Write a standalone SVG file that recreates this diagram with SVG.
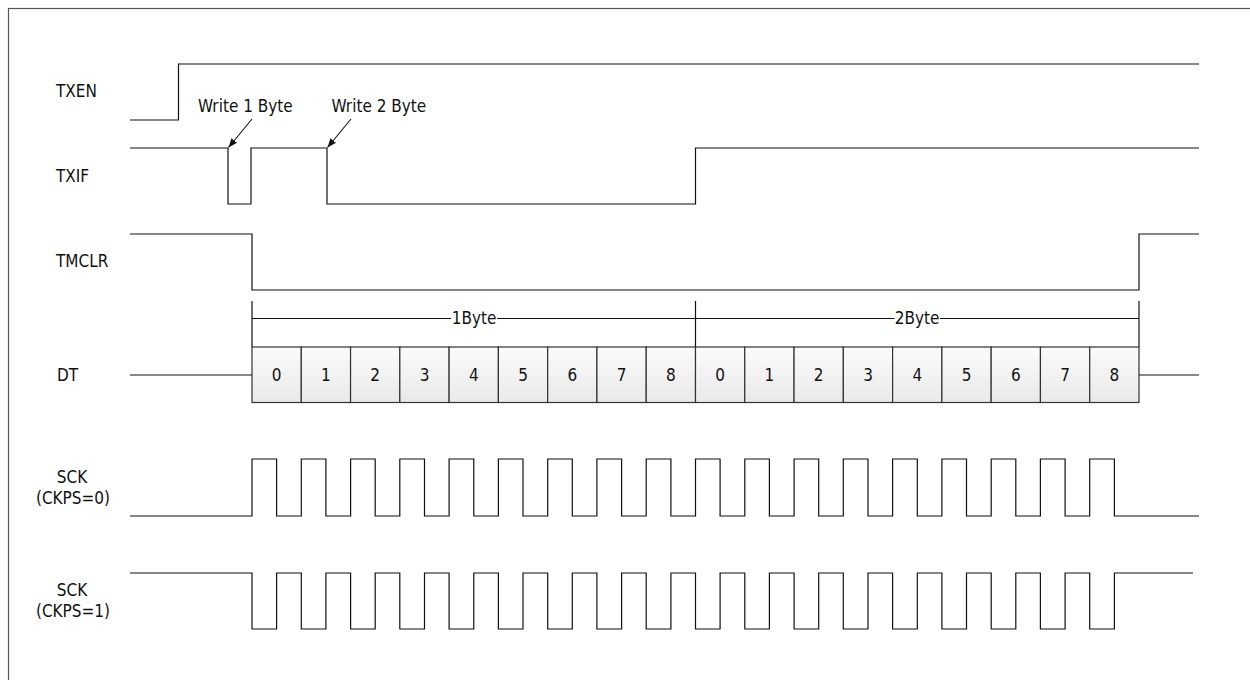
<svg xmlns="http://www.w3.org/2000/svg" width="1250" height="680" viewBox="0 0 1250 680">
<style>
  text { font-family: "DejaVu Sans Condensed", "DejaVu Sans", sans-serif; font-stretch: condensed; font-size: 17px; fill: #111; }
  .wave { fill: none; stroke: #111; stroke-width: 1.2; }
  .cell { fill: url(#cellGrad); stroke: #333; stroke-width: 1.2; }
  .num { text-anchor: middle; }
  .mid { text-anchor: middle; }
  .arrow { stroke: #111; stroke-width: 1.1; fill: none; marker-end: url(#ah); }
</style>
<defs>
  <linearGradient id="cellGrad" x1="0" y1="0" x2="0" y2="1">
    <stop offset="0" stop-color="#fbfbfb"/>
    <stop offset="1" stop-color="#e9e9e9"/>
  </linearGradient>
  <marker id="ah" viewBox="0 0 10 10" refX="10" refY="5" markerWidth="9" markerHeight="9" markerUnits="userSpaceOnUse" orient="auto">
    <path d="M0 1 L10 5 L0 9 Z" fill="#111"/>
  </marker>
</defs>
<rect x="8.5" y="8.5" width="1270" height="700" fill="#fff" stroke="#555" stroke-width="1.2"/>

<g id="txen">
  <text x="56" y="97">TXEN</text>
  <path class="wave" d="M130 120 H178.5 V64 H1199"/>
</g>

<g id="txif">
  <text x="56" y="182">TXIF</text>
  <path class="wave" d="M130 148 H228 V204 H251 V148 H327 V204 H695.5 V148 H1199"/>
  <text x="198" y="112">Write 1 Byte</text>
  <text x="331.5" y="112">Write 2 Byte</text>
</g>

<g id="tmclr">
  <text x="56" y="267">TMCLR</text>
  <path class="wave" d="M130 234 H252 V290 H1139 V234 H1199"/>
</g>

<g id="bytes">
  <path class="wave" d="M252 301 V347 M695.5 301 V347 M1139 301 V347 M252 318.5 H451 M497 318.5 H695.5 M695.5 318.5 H894.5 M940 318.5 H1139"/>
  <text class="mid" x="474" y="324">1Byte</text>
  <text class="mid" x="917" y="324">2Byte</text>
</g>

<g id="dt">
  <text x="57" y="381">DT</text>
  <path class="wave" d="M130 375 H252 M1139 375 H1199"/>
  <rect class="cell" x="252" y="347" width="49.28" height="55.5"/>
  <rect class="cell" x="301.28" y="347" width="49.28" height="55.5"/>
  <rect class="cell" x="350.56" y="347" width="49.28" height="55.5"/>
  <rect class="cell" x="399.83" y="347" width="49.28" height="55.5"/>
  <rect class="cell" x="449.11" y="347" width="49.28" height="55.5"/>
  <rect class="cell" x="498.39" y="347" width="49.28" height="55.5"/>
  <rect class="cell" x="547.67" y="347" width="49.28" height="55.5"/>
  <rect class="cell" x="596.94" y="347" width="49.28" height="55.5"/>
  <rect class="cell" x="646.22" y="347" width="49.28" height="55.5"/>
  <rect class="cell" x="695.5" y="347" width="49.28" height="55.5"/>
  <rect class="cell" x="744.78" y="347" width="49.28" height="55.5"/>
  <rect class="cell" x="794.06" y="347" width="49.28" height="55.5"/>
  <rect class="cell" x="843.33" y="347" width="49.28" height="55.5"/>
  <rect class="cell" x="892.61" y="347" width="49.28" height="55.5"/>
  <rect class="cell" x="941.89" y="347" width="49.28" height="55.5"/>
  <rect class="cell" x="991.17" y="347" width="49.28" height="55.5"/>
  <rect class="cell" x="1040.44" y="347" width="49.28" height="55.5"/>
  <rect class="cell" x="1089.72" y="347" width="49.28" height="55.5"/>
  <text class="num" x="276.6" y="381">0</text>
  <text class="num" x="325.9" y="381">1</text>
  <text class="num" x="375.2" y="381">2</text>
  <text class="num" x="424.5" y="381">3</text>
  <text class="num" x="473.8" y="381">4</text>
  <text class="num" x="523" y="381">5</text>
  <text class="num" x="572.3" y="381">6</text>
  <text class="num" x="621.6" y="381">7</text>
  <text class="num" x="670.9" y="381">8</text>
  <text class="num" x="720.1" y="381">0</text>
  <text class="num" x="769.4" y="381">1</text>
  <text class="num" x="818.7" y="381">2</text>
  <text class="num" x="868" y="381">3</text>
  <text class="num" x="917.3" y="381">4</text>
  <text class="num" x="966.5" y="381">5</text>
  <text class="num" x="1015.8" y="381">6</text>
  <text class="num" x="1065.1" y="381">7</text>
  <text class="num" x="1114.4" y="381">8</text>
</g>

<g id="sck0">
  <text class="mid" x="72" y="483">SCK</text>
  <text class="mid" x="73" y="504">(CKPS=0)</text>
  <path class="wave" d="M130 516 H252 V459 H276.6 V516 H301.3 V459 H325.9 V516 H350.6 V459 H375.2 V516 H399.8 V459 H424.5 V516 H449.1 V459 H473.8 V516 H498.4 V459 H523 V516 H547.7 V459 H572.3 V516 H596.9 V459 H621.6 V516 H646.2 V459 H670.9 V516 H695.5 V459 H720.1 V516 H744.8 V459 H769.4 V516 H794.1 V459 H818.7 V516 H843.3 V459 H868 V516 H892.6 V459 H917.3 V516 H941.9 V459 H966.5 V516 H991.2 V459 H1015.8 V516 H1040.4 V459 H1065.1 V516 H1089.7 V459 H1114.4 V516 H1199"/>
</g>

<g id="sck1">
  <text class="mid" x="72" y="596">SCK</text>
  <text class="mid" x="73" y="617">(CKPS=1)</text>
  <path class="wave" d="M130 573 H252 V629 H276.6 V573 H301.3 V629 H325.9 V573 H350.6 V629 H375.2 V573 H399.8 V629 H424.5 V573 H449.1 V629 H473.8 V573 H498.4 V629 H523 V573 H547.7 V629 H572.3 V573 H596.9 V629 H621.6 V573 H646.2 V629 H670.9 V573 H695.5 V629 H720.1 V573 H744.8 V629 H769.4 V573 H794.1 V629 H818.7 V573 H843.3 V629 H868 V573 H892.6 V629 H917.3 V573 H941.9 V629 H966.5 V573 H991.2 V629 H1015.8 V573 H1040.4 V629 H1065.1 V573 H1089.7 V629 H1114.4 V573 H1193"/>
</g>

<g id="connectors">
  <line class="arrow" x1="252" y1="119" x2="228.5" y2="147.5"/>
  <line class="arrow" x1="351" y1="119" x2="327.5" y2="147.5"/>
</g>
</svg>
